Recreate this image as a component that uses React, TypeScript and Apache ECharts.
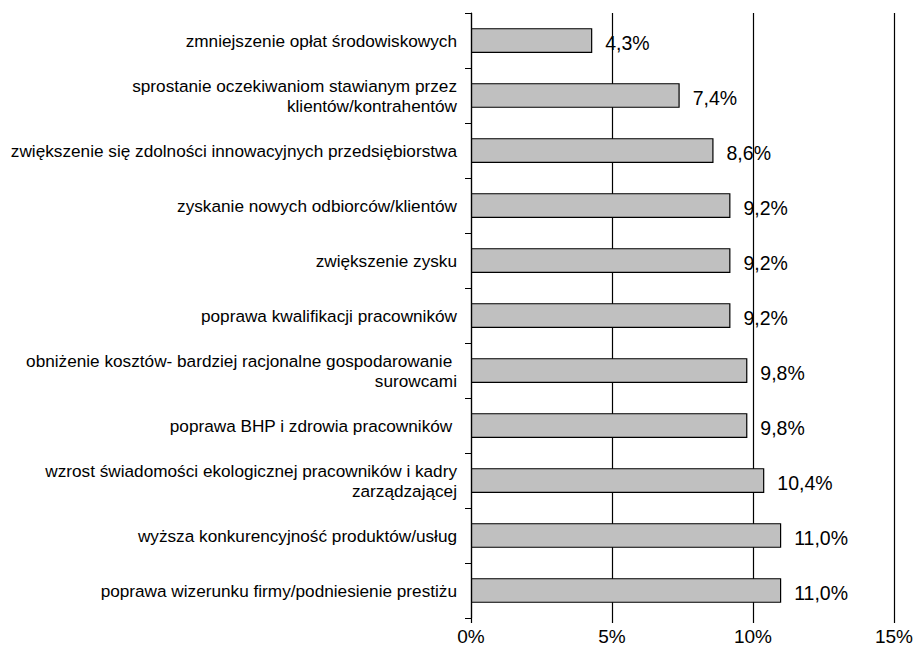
import React, { useEffect, useRef } from "react";
import * as echarts from "echarts";

const categories = [
  "zmniejszenie opłat środowiskowych",
  "sprostanie oczekiwaniom stawianym przez\nklientów/kontrahentów",
  "zwiększenie się zdolności innowacyjnych przedsiębiorstwa",
  "zyskanie nowych odbiorców/klientów",
  "zwiększenie zysku",
  "poprawa kwalifikacji pracowników",
  "obniżenie kosztów- bardziej racjonalne gospodarowanie \nsurowcami",
  "poprawa BHP i zdrowia pracowników ",
  "wzrost świadomości ekologicznej pracowników i kadry\nzarządzającej",
  "wyższa konkurencyjność produktów/usług",
  "poprawa wizerunku firmy/podniesienie prestiżu",
];
const values = [4.3, 7.4, 8.6, 9.2, 9.2, 9.2, 9.8, 9.8, 10.4, 11.0, 11.0];
const xTicks = [0, 5, 10, 15];

export default function App() {
  const ref = useRef<HTMLDivElement>(null);
  useEffect(() => {
    if (!ref.current) return;
    const chart = echarts.init(ref.current, null, { renderer: "svg" });
    chart.setOption({
      animation: false,
      backgroundColor: "#ffffff",
      textStyle: { fontFamily: "Liberation Sans, Arial, sans-serif" },
      grid: { left: 471, right: 24, top: 13, bottom: 35, containLabel: false },
      xAxis: {
        type: "value",
        min: xTicks[0],
        max: xTicks[xTicks.length - 1],
        interval: 5,
        axisLine: { show: false },
        axisTick: { show: true, length: 5, lineStyle: { color: "#000", width: 1.2 } },
        splitLine: { show: true, lineStyle: { color: "#000", width: 1.2 } },
        axisLabel: {
          formatter: (v: number) => `${v}%`,
          fontSize: 19,
          color: "#000",
          margin: 9,
        },
      },
      yAxis: {
        type: "category",
        data: categories,
        inverse: true,
        axisLine: { show: true, lineStyle: { color: "#000", width: 1.2 } },
        axisTick: { show: true, length: 6, alignWithLabel: false, lineStyle: { color: "#000" } },
        axisLabel: {
          fontSize: 17.2,
          color: "#000",
          margin: 14,
          align: "right",
          lineHeight: 20,
        },
      },
      series: [
        {
          type: "bar",
          data: values,
          barWidth: "45%",
          itemStyle: { color: "#c0c0c0", borderColor: "#000", borderWidth: 1.2 },
          label: {
            show: true,
            position: "right",
            distance: 13,
            fontSize: 19.5,
            color: "#000",
            offset: [0, 2],
            formatter: (p: any) => `${p.value.toFixed(1).replace(".", ",")}%`,
          },
        },
      ],
    });
    return () => chart.dispose();
  }, []);
  return (
    <div
      ref={ref}
      style={{ position: "fixed", left: 0, top: 0, width: 918, height: 653 }}
    />
  );
}
